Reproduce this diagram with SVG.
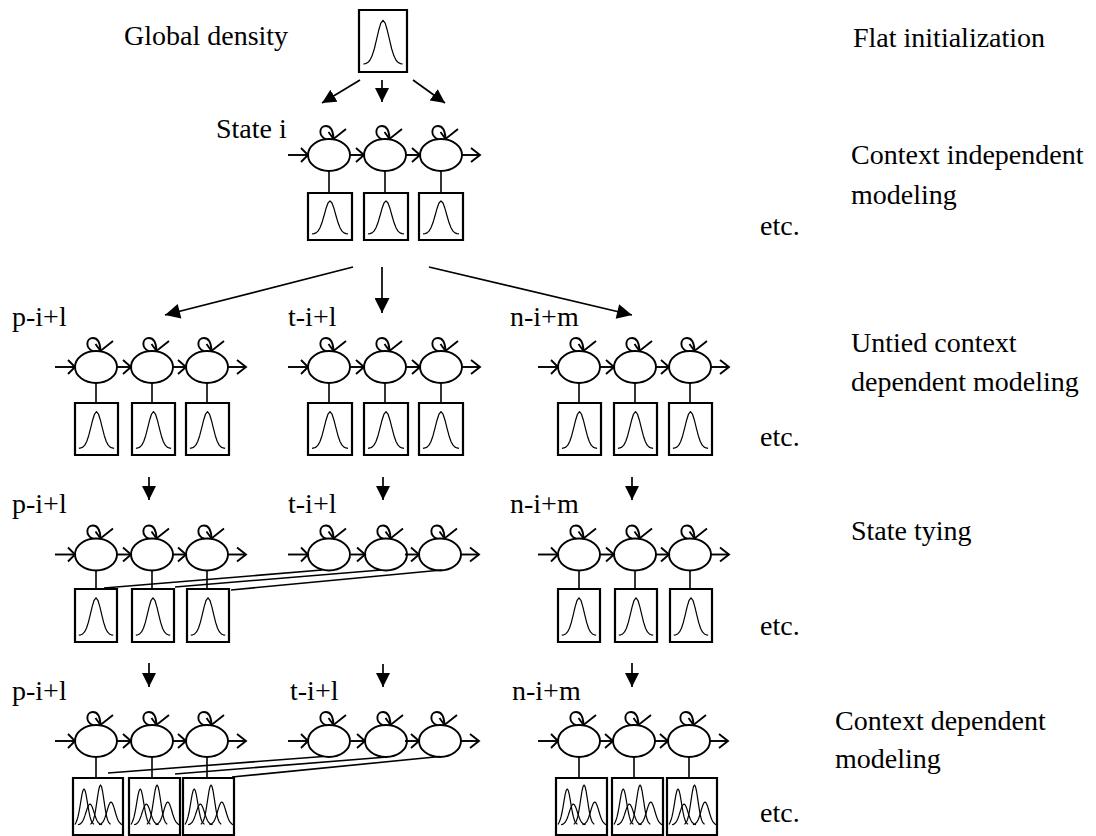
<svg xmlns="http://www.w3.org/2000/svg" xmlns:xlink="http://www.w3.org/1999/xlink" width="1096" height="836" viewBox="0 0 1096 836">
<style>
  text { font-family: "Liberation Serif", "Times New Roman", "DejaVu Serif", serif; font-size: 28px; fill: #000; }
  .ln { stroke: #000; stroke-width: 1.6; fill: none; }
  .arw { stroke: #000; stroke-width: 1.7; fill: none; }
  .box { stroke: #000; stroke-width: 2.2; fill: #fff; vector-effect: non-scaling-stroke; }
  .crv { stroke: #000; stroke-width: 1.2; fill: none; stroke-linejoin: round; vector-effect: non-scaling-stroke; }
  .st { stroke: #000; stroke-width: 1.9; fill: none; }
</style>
<defs>
  <marker id="ah" viewBox="0 0 10 10" refX="10" refY="5" markerWidth="14" markerHeight="14" markerUnits="userSpaceOnUse" orient="auto">
    <path d="M0,0 L10,5 L0,10 z" fill="#000"/>
  </marker>
  <marker id="ahb" viewBox="0 0 10 10" refX="10" refY="5" markerWidth="16" markerHeight="15" markerUnits="userSpaceOnUse" orient="auto">
    <path d="M0,0 L10,5 L0,10 z" fill="#000"/>
  </marker>
  <g id="st" class="st">
    <ellipse cx="0" cy="0" rx="21" ry="16"/>
    <path d="M-3,-15.8 C-11,-19 -10,-29 -3,-29 C2,-29 4,-24 4.5,-17"/>
    <polyline points="-0.5,-23 4.5,-16 17,-26"/>
  </g>
  <g id="ain" class="st">
    <line x1="-20" y1="0" x2="0" y2="0"/>
    <polyline points="-7,-7 0,0 -7,7"/>
  </g>
  <g id="amid" class="st">
    <line x1="-14" y1="0" x2="0" y2="0"/>
    <polyline points="-8,-7 0,0 -8,7"/>
  </g>
  <g id="aout" class="st">
    <line x1="-18" y1="0" x2="0" y2="0"/>
    <polyline points="-9,-7 0,0 -9,7"/>
  </g>
  <symbol id="gbox" viewBox="0 0 44 48" preserveAspectRatio="none" overflow="visible">
    <rect x="0" y="0" width="44" height="48" class="box"/>
    <polyline class="crv" points="4,41.8 6,41.5 8,40.7 10,38.9 12,35.5 14,30.2 16,23.2 18,15.9 20,10.2 22,8 24,10.2 26,15.9 28,23.2 30,30.2 32,35.5 34,38.9 36,40.7 38,41.5 40,41.8"/>
  </symbol>
  <symbol id="mbox" viewBox="0 0 50 57" preserveAspectRatio="none" overflow="visible">
    <rect x="0" y="0" width="50" height="57" class="box"/>
    <polyline class="crv" points="2,46.4 3,44.4 4,42.1 5,38.7 6,34 7,28.3 8,22.1 9,16.4 10,12.4 11,11 12,12.4 13,16.4 14,22.1 15,28.3 16,34 17,38.7 18,42.1 19,44.4 21,46.4"/>
    <polyline class="crv" points="5,46.8 7,46.1 9,44.2 10,42.5 11,40.2 12,37.4 13,34.3 14,31.1 15,28.5 16,26.7 17,26 18,26.7 19,28.5 20,31.1 21,34.3 22,37.4 23,40.2 24,42.5 25,44.2 27,46.1 29,46.8"/>
    <polyline class="crv" points="17.5,46.3 19.5,44.1 20.5,41.6 21.5,37.8 22.5,32.6 23.5,26.2 24.5,19.3 25.5,13 26.5,8.6 27.5,7 28.5,8.6 29.5,13 30.5,19.3 31.5,26.2 32.5,32.6 33.5,37.8 34.5,41.6 35.5,44.1 37.5,46.3"/>
    <polyline class="crv" points="26,46.7 28,46 30,43.9 31,42 32,39.5 33,36.5 34,33 35,29.6 36,26.7 37,24.7 38,24 39,24.7 40,26.7 41,29.6 42,33 43,36.5 44,39.5 45,42 46,43.9 48,46 49,46.7"/>
  </symbol>
</defs>
<rect x="0" y="0" width="1096" height="836" fill="#fff"/>

<!-- labels -->
<g id="labels" font-family="Liberation Serif, Times New Roman, serif">
  <text x="124" y="45">Global density</text>
  <text x="216" y="138">State i</text>
  <text x="853" y="47">Flat initialization</text>
  <text x="851" y="164">Context independent</text>
  <text x="851" y="204">modeling</text>
  <text x="760" y="235">etc.</text>
  <text x="851" y="352">Untied context</text>
  <text x="851" y="391">dependent modeling</text>
  <text x="760" y="446">etc.</text>
  <text x="851" y="540">State tying</text>
  <text x="760" y="635">etc.</text>
  <text x="835" y="730">Context dependent</text>
  <text x="835" y="768">modeling</text>
  <text x="760" y="822">etc.</text>
  <text x="12" y="326">p-i+l</text>
  <text x="288" y="326">t-i+l</text>
  <text x="510" y="326">n-i+m</text>
  <text x="12" y="513">p-i+l</text>
  <text x="288" y="513">t-i+l</text>
  <text x="510" y="513">n-i+m</text>
  <text x="12" y="700">p-i+l</text>
  <text x="290" y="700">t-i+l</text>
  <text x="512" y="700">n-i+m</text>
</g>

<!-- global density -->
<g id="global-density">
  <use xlink:href="#gbox" href="#gbox" x="359" y="10" width="48" height="62"/>
</g>

<!-- context independent model -->
<g id="ci-model">
  <use href="#ain" x="308" y="155"/>
  <use href="#st" x="329" y="155"/>
  <use href="#amid" x="364" y="155"/>
  <use href="#st" x="385" y="155"/>
  <use href="#amid" x="420" y="155"/>
  <use href="#st" x="441" y="155"/>
  <use href="#aout" x="480" y="155"/>
  <line class="ln" x1="329" y1="171" x2="329" y2="193"/>
  <line class="ln" x1="385" y1="171" x2="385" y2="193"/>
  <line class="ln" x1="441" y1="171" x2="441" y2="193"/>
  <use href="#gbox" x="308" y="193" width="44" height="47"/>
  <use href="#gbox" x="364" y="193" width="44" height="47"/>
  <use href="#gbox" x="419" y="193" width="44" height="47"/>
</g>

<!-- row 2: untied context dependent -->
<g id="untied-p">
  <use href="#ain" x="75" y="367"/>
  <use href="#st" x="96" y="367"/>
  <use href="#amid" x="131" y="367"/>
  <use href="#st" x="152" y="367"/>
  <use href="#amid" x="186" y="367"/>
  <use href="#st" x="207" y="367"/>
  <use href="#aout" x="246" y="367"/>
  <line class="ln" x1="96" y1="383" x2="96" y2="403"/>
  <line class="ln" x1="152" y1="383" x2="152" y2="403"/>
  <line class="ln" x1="207" y1="383" x2="207" y2="403"/>
  <use href="#gbox" x="75" y="403" width="43" height="52"/>
  <use href="#gbox" x="132" y="403" width="43" height="52"/>
  <use href="#gbox" x="186" y="403" width="43" height="52"/>
</g>
<g id="untied-t">
  <use href="#ain" x="308" y="367"/>
  <use href="#st" x="329" y="367"/>
  <use href="#amid" x="364" y="367"/>
  <use href="#st" x="385" y="367"/>
  <use href="#amid" x="420" y="367"/>
  <use href="#st" x="441" y="367"/>
  <use href="#aout" x="480" y="367"/>
  <line class="ln" x1="329" y1="383" x2="329" y2="403"/>
  <line class="ln" x1="385" y1="383" x2="385" y2="403"/>
  <line class="ln" x1="441" y1="383" x2="441" y2="403"/>
  <use href="#gbox" x="308" y="403" width="44" height="52"/>
  <use href="#gbox" x="364" y="403" width="44" height="52"/>
  <use href="#gbox" x="419" y="403" width="44" height="52"/>
</g>
<g id="untied-n">
  <use href="#ain" x="558" y="367"/>
  <use href="#st" x="579" y="367"/>
  <use href="#amid" x="614" y="367"/>
  <use href="#st" x="635" y="367"/>
  <use href="#amid" x="669" y="367"/>
  <use href="#st" x="690" y="367"/>
  <use href="#aout" x="729" y="367"/>
  <line class="ln" x1="579" y1="383" x2="579" y2="403"/>
  <line class="ln" x1="635" y1="383" x2="635" y2="403"/>
  <line class="ln" x1="690" y1="383" x2="690" y2="403"/>
  <use href="#gbox" x="558" y="403" width="43" height="52"/>
  <use href="#gbox" x="614" y="403" width="43" height="52"/>
  <use href="#gbox" x="669" y="403" width="43" height="52"/>
</g>

<!-- row 3: state tying -->
<g id="tied-p">
  <use href="#ain" x="75" y="554.5"/>
  <use href="#st" x="96" y="554.5"/>
  <use href="#amid" x="131" y="554.5"/>
  <use href="#st" x="152" y="554.5"/>
  <use href="#amid" x="186" y="554.5"/>
  <use href="#st" x="207" y="554.5"/>
  <use href="#aout" x="246" y="554.5"/>
  <line class="ln" x1="96" y1="570.5" x2="96" y2="589"/>
  <line class="ln" x1="152" y1="570.5" x2="152" y2="589"/>
  <line class="ln" x1="207" y1="570.5" x2="207" y2="589"/>
  <use href="#gbox" x="75" y="589" width="42" height="53"/>
  <use href="#gbox" x="132" y="589" width="42" height="53"/>
  <use href="#gbox" x="187" y="589" width="42" height="53"/>
</g>
<g id="tied-t">
  <use href="#ain" x="308" y="554.5"/>
  <use href="#st" x="329" y="554.5"/>
  <use href="#amid" x="365" y="554.5"/>
  <use href="#st" x="386" y="554.5"/>
  <use href="#amid" x="419" y="554.5"/>
  <use href="#st" x="440" y="554.5"/>
  <use href="#aout" x="479" y="554.5"/>
</g>
<g id="tied-n">
  <use href="#ain" x="558" y="554.5"/>
  <use href="#st" x="579" y="554.5"/>
  <use href="#amid" x="614" y="554.5"/>
  <use href="#st" x="635" y="554.5"/>
  <use href="#amid" x="669" y="554.5"/>
  <use href="#st" x="690" y="554.5"/>
  <use href="#aout" x="729" y="554.5"/>
  <line class="ln" x1="579" y1="570.5" x2="579" y2="589"/>
  <line class="ln" x1="635" y1="570.5" x2="635" y2="589"/>
  <line class="ln" x1="690" y1="570.5" x2="690" y2="589"/>
  <use href="#gbox" x="558" y="589" width="42" height="53"/>
  <use href="#gbox" x="615" y="589" width="42" height="53"/>
  <use href="#gbox" x="670" y="589" width="42" height="53"/>
</g>

<!-- row 4: context dependent -->
<g id="cd-p">
  <use href="#ain" x="75" y="741"/>
  <use href="#st" x="96" y="741"/>
  <use href="#amid" x="131" y="741"/>
  <use href="#st" x="152" y="741"/>
  <use href="#amid" x="186" y="741"/>
  <use href="#st" x="207" y="741"/>
  <use href="#aout" x="246" y="741"/>
  <line class="ln" x1="96" y1="757" x2="96" y2="778"/>
  <line class="ln" x1="152" y1="757" x2="152" y2="778"/>
  <line class="ln" x1="207" y1="757" x2="207" y2="778"/>
  <use href="#mbox" x="73" y="778" width="50" height="57"/>
  <use href="#mbox" x="129" y="778" width="51" height="57"/>
  <use href="#mbox" x="183" y="778" width="51" height="57"/>
</g>
<g id="cd-t">
  <use href="#ain" x="308" y="741"/>
  <use href="#st" x="329" y="741"/>
  <use href="#amid" x="365" y="741"/>
  <use href="#st" x="386" y="741"/>
  <use href="#amid" x="419" y="741"/>
  <use href="#st" x="440" y="741"/>
  <use href="#aout" x="479" y="741"/>
</g>
<g id="cd-n">
  <use href="#ain" x="558" y="741"/>
  <use href="#st" x="579" y="741"/>
  <use href="#amid" x="613" y="741"/>
  <use href="#st" x="634" y="741"/>
  <use href="#amid" x="668" y="741"/>
  <use href="#st" x="689" y="741"/>
  <use href="#aout" x="728" y="741"/>
  <line class="ln" x1="579" y1="757" x2="579" y2="778"/>
  <line class="ln" x1="634" y1="757" x2="634" y2="778"/>
  <line class="ln" x1="689" y1="757" x2="689" y2="778"/>
  <use href="#mbox" x="556" y="778" width="51" height="57"/>
  <use href="#mbox" x="612" y="778" width="51" height="57"/>
  <use href="#mbox" x="667" y="778" width="50" height="57"/>
</g>

<!-- connectors -->
<g id="connectors">
  <line class="arw" x1="360" y1="80" x2="322" y2="103" marker-end="url(#ah)"/>
  <line class="arw" x1="382" y1="80" x2="382" y2="102" marker-end="url(#ah)"/>
  <line class="arw" x1="413" y1="80" x2="445" y2="103" marker-end="url(#ah)"/>

  <line class="arw" x1="353" y1="267" x2="165" y2="315" marker-end="url(#ahb)"/>
  <line class="arw" x1="382" y1="267" x2="382" y2="313" marker-end="url(#ahb)"/>
  <line class="arw" x1="429" y1="267" x2="632" y2="315" marker-end="url(#ahb)"/>

  <line class="arw" x1="149" y1="477" x2="149" y2="500" marker-end="url(#ah)"/>
  <line class="arw" x1="383" y1="477" x2="383" y2="500" marker-end="url(#ah)"/>
  <line class="arw" x1="632" y1="477" x2="632" y2="500" marker-end="url(#ah)"/>

  <line class="arw" x1="149" y1="663" x2="149" y2="687" marker-end="url(#ah)"/>
  <line class="arw" x1="383" y1="664" x2="383" y2="687" marker-end="url(#ah)"/>
  <line class="arw" x1="632" y1="663" x2="632" y2="687" marker-end="url(#ah)"/>

  <line class="ln" x1="104" y1="588" x2="322" y2="570"/>
  <line class="ln" x1="175" y1="587" x2="381" y2="570"/>
  <line class="ln" x1="231" y1="590" x2="442" y2="570"/>

  <line class="ln" x1="108" y1="773" x2="323" y2="756.5"/>
  <line class="ln" x1="175" y1="774" x2="387" y2="757"/>
  <line class="ln" x1="232" y1="777" x2="440" y2="756.5"/>
</g>
</svg>
